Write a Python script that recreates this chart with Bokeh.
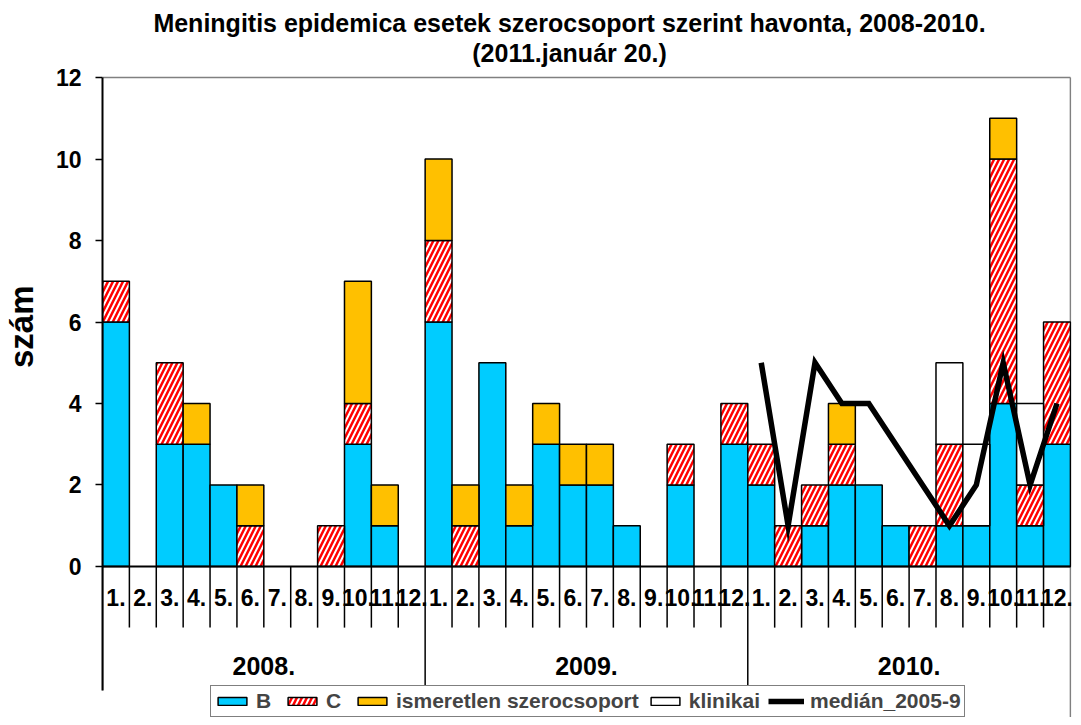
import numpy as np
from bokeh.plotting import figure
from bokeh.models import Range1d, FixedTicker, Legend, LegendItem, Title, ColumnDataSource
from bokeh.embed import file_html
from bokeh.resources import INLINE
from bokeh.core.properties import value

years = ["2008.", "2009.", "2010."]
months = ["1.", "2.", "3.", "4.", "5.", "6.", "7.", "8.", "9.", "10.", "11.", "12."]

B_vals = [6, 0, 3, 3, 2, 0, 0, 0, 0, 3, 1, 0,
          6, 0, 5, 1, 3, 2, 2, 1, 0, 2, 0, 3,
          2, 0, 1, 2, 2, 1, 0, 1, 1, 4, 1, 3]
C_vals = [1, 0, 2, 0, 0, 1, 0, 0, 1, 1, 0, 0,
          2, 1, 0, 0, 0, 0, 0, 0, 0, 1, 0, 1,
          1, 1, 1, 1, 0, 0, 1, 2, 0, 6, 1, 3]
U_vals = [0, 0, 0, 1, 0, 1, 0, 0, 0, 3, 1, 0,
          2, 1, 0, 1, 1, 1, 1, 0, 0, 0, 0, 0,
          0, 0, 0, 1, 0, 0, 0, 0, 0, 1, 0, 0]
K_vals = [0, 0, 0, 0, 0, 0, 0, 0, 0, 0, 0, 0,
          0, 0, 0, 0, 0, 0, 0, 0, 0, 0, 0, 0,
          0, 0, 0, 0, 0, 0, 0, 2, 2, 0, 2, 0]
median_2010 = [5, 1, 5, 4, 4, 3, 2, 1, 2, 5, 2, 4]

title1 = "Meningitis epidemica esetek szerocsoport szerint havonta, 2008-2010."
title2 = "(2011.január 20.)"

FONT = value("Liberation Sans")

n = len(B_vals)
xs = np.arange(n) + 0.5

p = figure(width=1073, height=717, x_range=Range1d(0, 36.04), y_range=Range1d(-3.706, 13.89),
           min_border_left=0, min_border_right=2, min_border_top=0, min_border_bottom=0,
           x_axis_location=None, toolbar_location=None, output_backend="svg",
           outline_line_color=None)
p.grid.visible = False

yax = p.yaxis[0]
yax.ticker = FixedTicker(ticks=[0, 2, 4, 6, 8, 10, 12])
yax.bounds = (-3.04, 12)
yax.axis_line_width = 2
yax.axis_line_color = "black"
yax.major_tick_line_width = 1.5
yax.major_tick_out = 7
yax.major_tick_in = 0
yax.minor_tick_out = 0
yax.minor_tick_in = 0
yax.major_label_standoff = 14
yax.major_label_text_font = "Liberation Sans"
yax.major_label_text_font_style = "bold"
yax.major_label_text_font_size = "23px"
yax.major_label_text_color = "black"
# invisible spacer label to push the axis title further left
yax.axis_label = " "
yax.axis_label_text_font_size = "4px"
yax.axis_label_standoff = 5

# y axis title ("szám")
p.add_layout(Title(text="szám", align="right", offset=285, text_font="Liberation Sans",
                   text_font_style="bold", text_font_size="33px", text_color="black",
                   standoff=0), "left")

# plot-area border (gray)
p.segment(x0=[0], y0=[12], x1=[36], y1=[12], line_color="#808080", line_width=1.5)
p.segment(x0=[36], y0=[-3.706], x1=[36], y1=[12], line_color="#808080", line_width=1.5)

def stacked(vals, base):
    vals = np.array(vals, dtype=float)
    m = vals > 0
    return dict(x=xs[m], bottom=base[m], top=(base + vals)[m])

base = np.zeros(n)
srcB = ColumnDataSource(stacked(B_vals, base)); base = base + np.array(B_vals)
srcC = ColumnDataSource(stacked(C_vals, base)); base = base + np.array(C_vals)
srcU = ColumnDataSource(stacked(U_vals, base)); base = base + np.array(U_vals)
srcK = ColumnDataSource(stacked(K_vals, base)); base = base + np.array(K_vals)

rB = p.vbar(x="x", bottom="bottom", top="top", width=1, source=srcB,
            fill_color="#00CCFF", line_color="black", line_width=1.5)
rC = p.vbar(x="x", bottom="bottom", top="top", width=1, source=srcC,
            fill_color="white", line_color="black", line_width=1.5,
            hatch_pattern="/", hatch_color="#FF0000", hatch_weight=2.5, hatch_scale=10)
rU = p.vbar(x="x", bottom="bottom", top="top", width=1, source=srcU,
            fill_color="#FFC000", line_color="black", line_width=1.5)
rK = p.vbar(x="x", bottom="bottom", top="top", width=1, source=srcK,
            fill_color="white", line_color="black", line_width=1.5)

rM = p.line(x=xs[24:36], y=median_2010, line_color="black", line_width=5.5, line_join="miter")

# baseline
p.segment(x0=[0], y0=[0], x1=[36], y1=[0], line_color="black", line_width=2)

# category separators
mx = [float(i) for i in range(1, 36) if i % 12 != 0]
p.segment(x0=mx, y0=[0] * len(mx), x1=mx, y1=[-1.5] * len(mx), line_color="black", line_width=1.5)
yx = [0.0, 12.0, 24.0]
p.segment(x0=yx, y0=[0] * 3, x1=yx, y1=[-3.04] * 3, line_color="black", line_width=1.5)

# month labels
p.text(x=xs, y=[-0.76] * n, text=months * 3, text_font=FONT, text_font_style="bold",
       text_font_size="23px", text_align="center", text_baseline="middle", text_color="black")
# year labels
p.text(x=[6, 18, 30], y=[-2.43] * 3, text=years, text_font=FONT, text_font_style="bold",
       text_font_size="25px", text_align="center", text_baseline="middle", text_color="black")

# title
p.text(x=[17.37, 17.37], y=[13.33, 12.61], text=[title1, title2], text_font=FONT,
       text_font_style="bold", text_font_size="25px", text_align="center",
       text_baseline="middle", text_color="black")

legend = Legend(items=[
    LegendItem(label="B", renderers=[rB]),
    LegendItem(label="C", renderers=[rC]),
    LegendItem(label="ismeretlen szerocsoport", renderers=[rU]),
    LegendItem(label="klinikai", renderers=[rK]),
    LegendItem(label="medián_2005-9", renderers=[rM]),
], location=(108, 0), orientation="horizontal",
    border_line_color="black", border_line_width=1.5, background_fill_color="white",
    background_fill_alpha=1.0,
    label_text_font="Liberation Sans", label_text_font_style="bold", label_text_font_size="21px",
    glyph_width=36, glyph_height=10, spacing=8, padding=3, margin=0, label_standoff=6)
p.add_layout(legend)

open("out.html", "w").write(file_html(p, INLINE))
